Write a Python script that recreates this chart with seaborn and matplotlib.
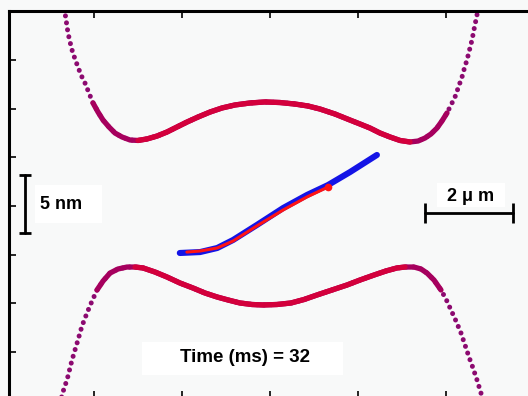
import matplotlib
matplotlib.use("Agg")
import matplotlib.pyplot as plt
from matplotlib.patches import Rectangle
import numpy as np
import seaborn as sns

# channel walls, x in um, y in nm
top_x = [-4.705, -4.659, -4.625, -4.591, -4.545, -4.500, -4.432, -4.364, -4.295, -4.205,
         -4.114, -4.023, -3.909, -3.795, -3.659, -3.523, -3.364, -3.182, -3.000, -2.795,
         -2.568, -2.341, -2.114, -1.886, -1.636, -1.364, -1.091, -0.795, -0.455, -0.114,
         0.227, 0.568, 0.864, 1.136, 1.477, 1.818, 2.045, 2.273, 2.500, 2.727,
         2.955, 3.182, 3.364, 3.523, 3.659, 3.795, 3.909, 4.023, 4.114, 4.205,
         4.284, 4.364, 4.420, 4.477, 4.534, 4.591, 4.648, 4.705, 4.727]
top_y = [17.59, 16.64, 15.78, 14.91, 14.14, 13.45, 12.67, 11.98, 11.29, 10.60,
         9.74, 8.88, 8.10, 7.41, 6.81, 6.29, 5.95, 5.69, 5.65, 5.78,
         6.03, 6.38, 6.81, 7.24, 7.67, 8.10, 8.45, 8.71, 8.88, 8.97,
         8.92, 8.79, 8.62, 8.36, 7.93, 7.41, 7.07, 6.72, 6.29, 5.95,
         5.65, 5.52, 5.60, 5.86, 6.21, 6.72, 7.33, 8.02, 8.71, 9.40,
         10.26, 11.12, 11.90, 12.59, 13.45, 14.31, 15.43, 16.47, 17.59]

bottom_x = [-4.750, -4.727, -4.670, -4.614, -4.557, -4.500, -4.432, -4.364, -4.273, -4.159,
            -4.045, -3.932, -3.795, -3.636, -3.455, -3.250, -3.068, -2.886, -2.614, -2.341,
            -2.045, -1.750, -1.477, -1.205, -0.955, -0.682, -0.409, -0.159, 0.159, 0.477,
            0.773, 1.068, 1.409, 1.750, 2.045, 2.364, 2.636, 2.886, 3.068, 3.273,
            3.432, 3.568, 3.727, 3.886, 4.000, 4.114, 4.227, 4.341, 4.432, 4.523,
            4.614, 4.705, 4.795, 4.818]
bottom_y = [-16.72, -16.29, -15.60, -15.00, -14.14, -13.28, -12.41, -11.55, -10.34, -9.22,
            -8.19, -7.24, -6.47, -5.78, -5.43, -5.26, -5.26, -5.34, -5.69, -6.12,
            -6.64, -7.07, -7.50, -7.84, -8.10, -8.36, -8.49, -8.53, -8.49, -8.36,
            -8.06, -7.67, -7.24, -6.81, -6.38, -5.95, -5.60, -5.34, -5.26, -5.26,
            -5.43, -5.78, -6.38, -7.24, -8.02, -8.97, -9.91, -10.95, -11.98, -13.02,
            -13.97, -15.00, -16.12, -16.72]

# particle track (blue) and fitted path up to current time (red)
track_x = [-2.05, -1.59, -1.20, -0.84, -0.30, 0.30, 0.84, 1.32, 1.82, 2.43]
track_y = [-4.05, -3.97, -3.62, -2.93, -1.64, -0.17, 0.95, 1.81, 2.93, 4.40]
path_x = [-1.89, -1.59, -1.20, -0.84, -0.30, 0.30, 0.84, 1.32]
path_y = [-3.97, -3.88, -3.62, -3.02, -1.72, -0.34, 0.78, 1.64]

time_ms = 32

sns.set_style("ticks")
plt.rcParams['font.family'] = ['Liberation Sans', 'DejaVu Sans']

bg = '#f8f9f9'
fig = plt.figure(figsize=(5.28, 3.96), dpi=100, facecolor=bg)
ax = fig.add_axes([9 / 528, -2 / 396, 522 / 528, 387 / 396])
ax.set_facecolor(bg)

purple = '#8c0a70'
dotted = (0, (0.01, 1.4))

# (curve, purple-red part, red part) as index slices
walls = [(top_x, top_y, slice(11, 48), slice(18, 42)),
         (bottom_x, bottom_y, slice(11, 44), slice(16, 39))]
for wx, wy, mid, core in walls:
    sns.lineplot(x=wx, y=wy, sort=False, estimator=None, ax=ax, color=purple,
                 lw=3.6, linestyle=dotted, dash_capstyle='round')
    sns.lineplot(x=wx[mid], y=wy[mid], sort=False, estimator=None, ax=ax,
                 color='#a6005e', lw=3.8, solid_capstyle='round', solid_joinstyle='round')
    sns.lineplot(x=wx[core], y=wy[core], sort=False, estimator=None, ax=ax,
                 color='#d3003c', lw=3.8, solid_capstyle='round', solid_joinstyle='round')

sns.lineplot(x=track_x, y=track_y, sort=False, estimator=None, ax=ax,
             color='#1414e6', lw=4.4, solid_capstyle='round', solid_joinstyle='round')
sns.lineplot(x=path_x, y=path_y, sort=False, estimator=None, ax=ax,
             color='#ff1414', lw=2.2, solid_capstyle='round', solid_joinstyle='round')
ax.plot(path_x[-1], path_y[-1], 'o', color='#ff1414', ms=5.5, mec='none')

# white label boxes
for x0, y0, w, h in [(-5.34, -1.47, 1.52, 3.28), (3.80, -0.09, 1.54, 2.07),
                     (-2.91, -14.57, 4.57, 2.85)]:
    ax.add_patch(Rectangle((x0, y0), w, h, facecolor='white', edgecolor='none', zorder=1.5))

# scale bars
ax.plot([-5.57, -5.57], [2.67, -2.33], color='black', lw=2.0, marker='_', ms=9, mew=2.0)
ax.plot([3.52, 5.52], [-0.60, -0.60], color='black', lw=2.0, marker='|', ms=14, mew=2.0)

ax.text(-5.23, 0.09, '5 nm', ha='left', va='center', fontsize=13,
        fontweight='bold', color='black')
ax.text(4.55, 0.85, '2 μ m', ha='center', va='center', fontsize=13,
        fontweight='bold', color='black')
ax.text(-0.57, -13.1, f'Time (ms) = {time_ms}', ha='center', va='center',
        fontsize=13.5, fontweight='bold', color='black')

ax.set_xlim(-5.932, 5.932)
ax.set_ylim(-16.55, 16.81)
ax.set_xticks(np.arange(-4, 5, 2))
ax.set_yticks(np.arange(-3, 4) * 4.2)
ax.tick_params(direction='in', length=5, width=1.2, top=True, bottom=True, left=True,
               right=False, labelleft=False, labelbottom=False, color='black')
for side in ['top', 'left', 'bottom']:
    ax.spines[side].set_linewidth(2.2)
    ax.spines[side].set_color('black')
ax.spines['right'].set_visible(False)
ax.set_xlabel('')
ax.set_ylabel('')

fig.savefig('out.png', dpi=100, facecolor=bg)
